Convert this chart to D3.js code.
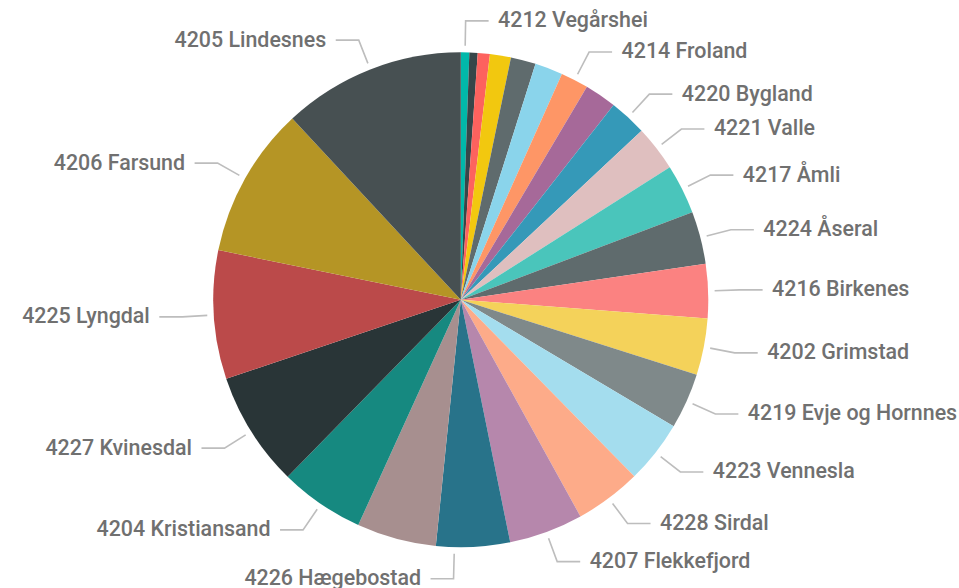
<!DOCTYPE html>
<html>
<head>
<meta charset="utf-8">
<script src="https://cdn.jsdelivr.net/npm/d3@7"></script>
<style>
  html, body { margin: 0; padding: 0; background: #ffffff; }
  svg { display: block; }
</style>
</head>
<body>
<svg id="chart" width="959" height="588"></svg>
<script>
// ---- data (clockwise from 12 o'clock) ----
const municipalities = [
  "4212 Vegårshei", "4201 Risør", "4203 Arendal", "4211 Gjerstad", "4213 Tvedestrand",
  "4215 Lillesand", "4214 Froland", "4218 Iveland", "4220 Bygland", "4221 Valle",
  "4217 Åmli", "4224 Åseral", "4216 Birkenes", "4202 Grimstad", "4219 Evje og Hornnes",
  "4223 Vennesla", "4228 Sirdal", "4207 Flekkefjord", "4226 Hægebostad", "4222 Bykle",
  "4204 Kristiansand", "4227 Kvinesdal", "4225 Lyngdal", "4206 Farsund", "4205 Lindesnes"
];
const values = [
  0.55, 0.54, 0.79, 1.37, 1.63,
  1.82, 1.81, 2.08, 2.44, 2.97,
  3.25, 3.42, 3.53, 3.69, 3.64,
  4.11, 4.33, 4.83, 4.81, 5.19,
  5.53, 7.50, 8.39, 9.86, 11.92
];
const labelled = [
  "4212 Vegårshei", "4214 Froland", "4220 Bygland", "4221 Valle", "4217 Åmli",
  "4224 Åseral", "4216 Birkenes", "4202 Grimstad", "4219 Evje og Hornnes",
  "4223 Vennesla", "4228 Sirdal", "4207 Flekkefjord", "4226 Hægebostad",
  "4204 Kristiansand", "4227 Kvinesdal", "4225 Lyngdal", "4206 Farsund", "4205 Lindesnes"
];
const palette = [
  "#01B8AA", "#374649", "#FD625E", "#F2C80F", "#5F6B6D",
  "#8AD4EB", "#FE9666", "#A66999", "#3599B8", "#DFBFBF",
  "#4AC5BB", "#5F6B6D", "#FB8281", "#F4D25A", "#7F898A",
  "#A4DDEE", "#FDAB89", "#B687AC", "#28738A", "#A78F8F",
  "#168980", "#293537", "#BB4A4A", "#B59525", "#475052"
];

// ---- layout ----
const cx = 460.8, cy = 299.8, R = 247.5;

const svg = d3.select("#chart");
const g = svg.append("g").attr("transform", `translate(${cx},${cy})`);

const data = municipalities.map((m, i) => ({ name: m, value: values[i] }));
const color = d3.scaleOrdinal().domain(municipalities).range(palette);

const pie = d3.pie().sort(null).value(d => d.value).startAngle(0).endAngle(2 * Math.PI);
const arcs = pie(data);
const arc = d3.arc().innerRadius(0).outerRadius(R);

g.selectAll("path.slice")
  .data(arcs)
  .enter().append("path")
  .attr("class", "slice")
  .attr("d", arc)
  .attr("fill", d => color(d.data.name));

// ---- labels with leader lines ----
const r0 = R + 6.5, r1 = R + 31.5, hLen = 23, gap = 9.5;
const pt = (a, r) => [r * Math.sin(a), -r * Math.cos(a)];

const lab = arcs.filter(d => labelled.includes(d.data.name)).map(d => {
  let a = (d.startAngle + d.endAngle) / 2;
  // labels hugging the bottom are pushed just past 6 o'clock onto the left side
  if (Math.abs(a - Math.PI) < 0.07) a = Math.PI + 0.026;
  const right = Math.sin(a) > 0.0001 || a < 0.05;
  const p0 = pt(a, r0), p1 = pt(a, r1);
  const p2 = [p1[0] + (right ? hLen : -hLen), p1[1]];
  return { d, a, right, p0, p1, p2 };
});

g.selectAll("polyline.leader")
  .data(lab)
  .enter().append("polyline")
  .attr("class", "leader")
  .attr("points", l => [l.p0, l.p1, l.p2].map(p => p.join(",")).join(" "))
  .attr("fill", "none")
  .attr("stroke", "#BDBDBD")
  .attr("stroke-width", 1.6);

g.selectAll("text.lbl")
  .data(lab)
  .enter().append("text")
  .attr("class", "lbl")
  .attr("x", l => l.p2[0] + (l.right ? gap : -gap))
  .attr("y", l => l.p2[1])
  .attr("dy", "0.3em")
  .attr("text-anchor", l => l.right ? "start" : "end")
  .attr("fill", "#707070")
  .style("font-family", "Roboto, 'DejaVu Sans', sans-serif")
  .style("font-weight", "500")
  .style("font-size", "21.4px")
  .text(l => l.d.data.name);
</script>
</body>
</html>
